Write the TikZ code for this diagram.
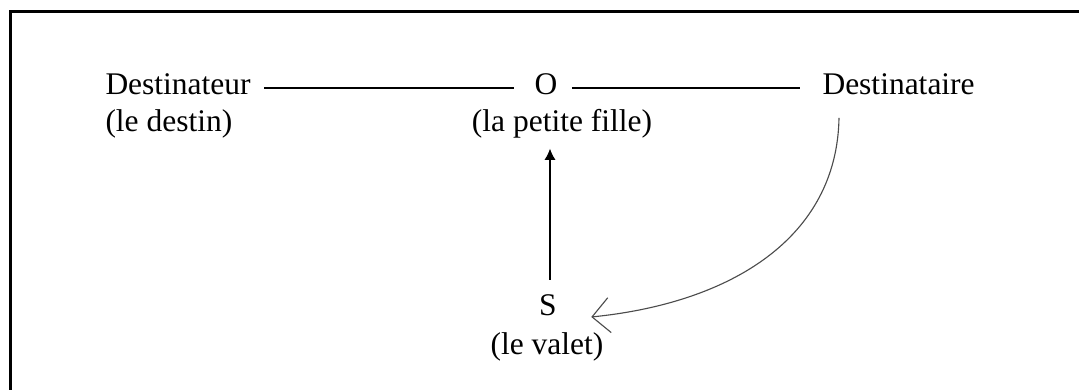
\documentclass[tikz,border=0pt]{standalone}
\usepackage{fontspec}
\setmainfont{Liberation Serif}
\usetikzlibrary{positioning,arrows.meta}

\begin{document}
\begin{tikzpicture}[
                x=0.4pt, y=0.4pt,
                actant/.style={inner sep=0pt, text=black, font=\fontsize{12.6}{15}\selectfont},
                link/.style={line width=0.8pt, black},
                push/.style={-{Latex[length=4.5pt,width=4.5pt]}, line width=0.5pt, black},
                gift/.style={-{Straight Barb[length=7pt,width=14pt]}, line width=0.45pt, black!70},
                frame/.style={line width=1.2pt, black}
            ]
            \useasboundingbox (0,0) rectangle (1079,390);

            % cadre
            \draw[frame] (10,0) -- (10,378) -- (1079,378);

            % ligne du haut
            \node[actant, anchor=base west] (dtr) at (105, 295) {Destinateur};
            \node[actant, anchor=base west] (dtrsub) at (105, 258) {(le destin)};
            \node[actant, anchor=base] (obj) at (546, 295) {O};
            \node[actant, anchor=base] (objsub) at (562, 258) {(la petite fille)};
            \node[actant, anchor=base west] (dtire) at (822, 295) {Destinataire};

            % sujet
            \node[actant, anchor=base] (sub) at (548, 74) {S};
            \node[actant, anchor=base] (subsub) at (547, 35) {(le valet)};

            \draw[link, shorten <=5.2pt, shorten >=8pt] ([yshift=-1.2pt]dtr.east) -- ([yshift=-1.2pt]obj.west);
            \draw[link, shorten <=5.6pt, shorten >=8.8pt] ([yshift=-1.2pt]obj.east) -- ([yshift=-1.2pt]dtire.west);
            \draw[push, shorten <=6pt, shorten >=3.8pt] ([xshift=0.8pt]sub.north) -- ([xshift=0.8pt]sub.north |- objsub.south);
            \draw[gift] ([shift={(17,-22)}]dtire.south west) .. controls +(-2,-120) and +(140,14) .. ([shift={(34,-1)}]sub.base east);
            \end{tikzpicture}
\end{document}
